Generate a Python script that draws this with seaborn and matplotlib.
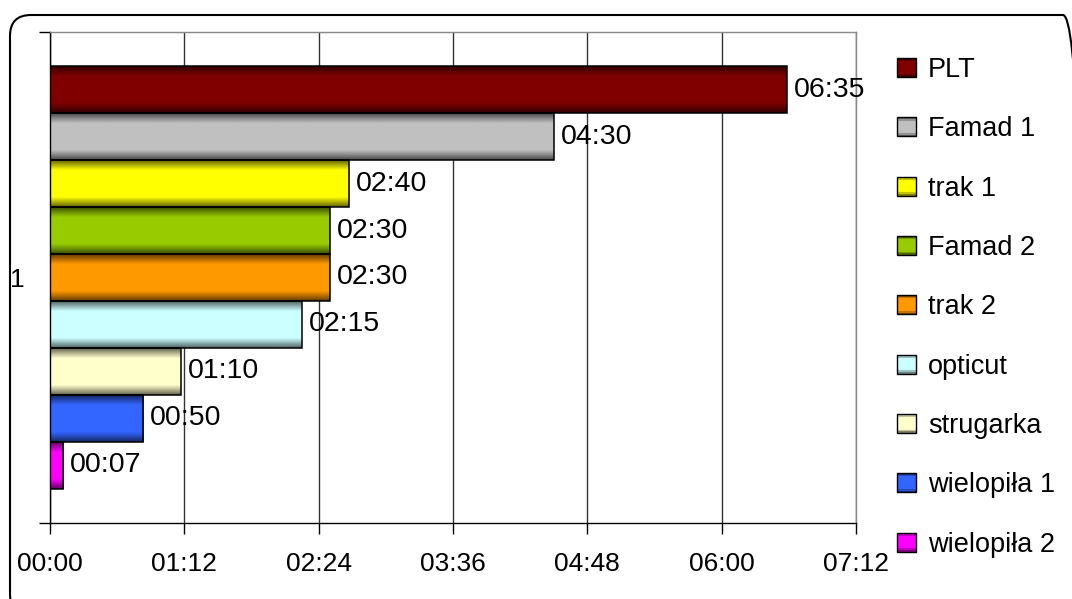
import numpy as np
import pandas as pd
import matplotlib
matplotlib.use("Agg")
import matplotlib.pyplot as plt
import matplotlib.transforms as mtransforms
import seaborn as sns
from matplotlib.patches import Rectangle, FancyBboxPatch
from matplotlib.legend_handler import HandlerBase
from matplotlib.colors import to_rgb

# Processing time per machine, in minutes
machines = ["PLT", "Famad 1", "trak 1", "Famad 2", "trak 2",
            "opticut", "strugarka", "wielopiła 1", "wielopiła 2"]
minutes = [395, 270, 160, 150, 150, 135, 70, 50, 7]
colors = ["#800000", "#C0C0C0", "#FFFF00", "#99CC00", "#FF9900",
          "#CCFFFF", "#FFFFCC", "#3366FF", "#FF00FF"]
group = ["1"] * len(machines)
tick_minutes = [0, 72, 144, 216, 288, 360, 432]


def hhmm(m):
    m = int(round(m))
    return f"{m // 60:02d}:{m % 60:02d}"


def shade(t):
    # darker towards the top and bottom edge of a bar, full colour in the middle
    return 0.38 + 0.62 * np.clip(1.6 * np.sin(np.pi * np.asarray(t)), 0, 1)


class GradientSquare(HandlerBase):
    def create_artists(self, legend, orig_handle, xdescent, ydescent,
                       width, height, fontsize, trans):
        rgb = np.array(to_rgb(orig_handle.get_facecolor()))
        n = 12
        arts = []
        for i in range(n):
            tt = (i + 0.5) / n
            arts.append(Rectangle((-xdescent, -ydescent + height * i / n), width, height / n,
                                  facecolor=np.clip(rgb * shade(tt), 0, 1),
                                  edgecolor="none", transform=trans))
        arts.append(Rectangle((-xdescent, -ydescent), width, height, facecolor="none",
                              edgecolor="black", lw=1.0, transform=trans))
        return arts


sns.set_theme(style="white")
plt.rcParams["font.family"] = ["Liberation Sans", "DejaVu Sans"]
plt.rcParams["text.color"] = "black"
plt.rcParams["legend.labelcolor"] = "black"

W, H = 1072, 599
fig = plt.figure(figsize=(W / 100, H / 100), dpi=100)
ax = fig.add_axes([50 / W, 1 - 523 / H, 806 / W, 491 / H])

df = pd.DataFrame({"grupa": group, "maszyna": machines, "czas": minutes})
sns.barplot(data=df, x="czas", y="grupa", hue="maszyna", hue_order=machines,
            palette=colors, orient="h", width=0.86, saturation=1, errorbar=None,
            edgecolor="black", linewidth=1.1, legend=False, ax=ax)

# shaded fill for each bar, clipped to the bar outline
t = np.linspace(0, 1, 80)
bars = sorted(ax.patches, key=lambda p: p.get_y())
for patch in bars:
    x0, y0 = patch.get_x(), patch.get_y()
    w, h = patch.get_width(), patch.get_height()
    rgb = np.array(patch.get_facecolor()[:3])
    img = np.clip(shade(t)[:, None, None] * rgb[None, None, :], 0, 1)
    im = ax.imshow(img, extent=(x0, x0 + w, y0 + h, y0), aspect="auto",
                   interpolation="bilinear", zorder=2)
    im.set_clip_path(patch)
    patch.set_facecolor("none")
    patch.set_zorder(3)
    ax.annotate(hhmm(w), (x0 + w, y0 + h / 2), xytext=(5, 0),
                textcoords="offset points", ha="left", va="center",
                fontsize=20.5, color="black", zorder=4)

ax.set_xlim(0, 432)
ax.set_ylim(0.5, -0.5)
ax.set_xlabel("")
ax.set_ylabel("")

ax.set_xticks(tick_minutes, [hhmm(m) for m in tick_minutes])
ax.tick_params(axis="x", bottom=True, direction="out", length=8, width=1,
               color="black", pad=13, labelsize=19, labelcolor="black")
ax.set_yticks([0], ["1"])
ax.set_yticks([-0.5, 0.5], minor=True)
ax.tick_params(axis="y", which="major", left=True, length=0, pad=18,
               labelsize=19, labelcolor="black")
ax.tick_params(axis="y", which="minor", left=True, direction="out",
               length=8, width=1, color="black")

ax.grid(axis="x", color="#333333", lw=1.0)
ax.grid(axis="y", visible=False)
ax.set_axisbelow(True)
for side in ("left", "bottom"):
    ax.spines[side].set_color("black")
    ax.spines[side].set_linewidth(1.0)
for side in ("top", "right"):
    ax.spines[side].set_color("#888888")
    ax.spines[side].set_linewidth(1.0)

handles = [Rectangle((0, 0), 1, 1, facecolor=c) for c in colors]
fig.legend(handles=handles, labels=machines,
           handler_map={Rectangle: GradientSquare()},
           loc="upper left", bbox_to_anchor=(897 / W, 1 - 57 / H),
           frameon=False, fontsize=19.5, labelcolor="black",
           handlelength=0.7, handleheight=0.7,
           handletextpad=0.45, labelspacing=1.23, borderpad=0, borderaxespad=0)

# rounded outer frame of the chart
frame = FancyBboxPatch((10, -16), 1074, 600,
                       boxstyle="round,pad=0,rounding_size=21",
                       transform=mtransforms.IdentityTransform(),
                       facecolor="none", edgecolor="black", lw=1.5)
fig.add_artist(frame)

fig.savefig("out.png", dpi=100)
